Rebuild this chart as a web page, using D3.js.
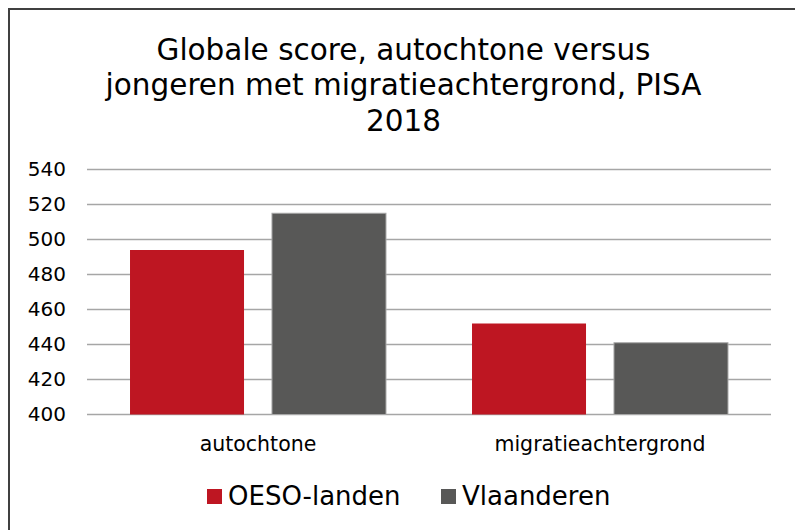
<!DOCTYPE html>
<html>
<head>
<meta charset="utf-8">
<script src="https://cdn.jsdelivr.net/npm/d3@7"></script>
<style>
  body { margin: 0; background: #fff; }
  svg { display: block; font-family: "DejaVu Sans", Verdana, sans-serif; }
</style>
</head>
<body>
<div id="chart"></div>
<script>
// données
var categories = ["autochtone", "migratieachtergrond"];
var series = ["OESO-landen", "Vlaanderen"];
var oesoWaarden = [494, 452];
var vlaanderenWaarden = [515, 441];
var yTicks = [400, 420, 440, 460, 480, 500, 520, 540];
var titelRegels = ["Globale score, autochtone versus", "jongeren met migratieachtergrond, PISA", "2018"];

var kleuren = { "OESO-landen": "#BE1622", "Vlaanderen": "#585857" };

const width = 795, height = 530;
const plot = { left: 87, right: 771, top: 169.5, bottom: 414.5 };

const svg = d3.select("#chart").append("svg")
    .attr("width", width)
    .attr("height", height);

// cadre (bords droit et bas hors de l'image)
svg.append("rect")
    .attr("x", 9).attr("y", 9)
    .attr("width", 800).attr("height", 540)
    .attr("fill", "#fff")
    .attr("stroke", "#404040")
    .attr("stroke-width", 2);

// titre
svg.append("text")
    .attr("text-anchor", "middle")
    .style("font-size", "29.5px")
    .attr("fill", "#000")
    .selectAll("tspan")
    .data(titelRegels)
    .enter().append("tspan")
    .attr("x", 403.5)
    .attr("y", (d, i) => 59.5 + i * 35.5)
    .text(d => d);

const y = d3.scaleLinear().domain([400, 540]).range([plot.bottom, plot.top]);
const x0 = d3.scaleBand().domain(categories).range([plot.left, plot.right]).paddingInner(0).paddingOuter(0);
const x1 = d3.scaleBand().domain(series).range([0, x0.bandwidth()]).paddingInner(0.197).paddingOuter(0.303);

// lignes de grille
svg.append("g")
    .selectAll("line")
    .data(yTicks)
    .enter().append("line")
    .attr("x1", plot.left).attr("x2", plot.right)
    .attr("y1", d => y(d)).attr("y2", d => y(d))
    .attr("stroke", "#a6a6a6")
    .attr("stroke-width", 1.5);

// axe Y
const yAxis = svg.append("g")
    .attr("transform", `translate(${plot.left},0)`)
    .call(d3.axisLeft(y).tickValues(yTicks).tickSize(0).tickPadding(21));
yAxis.select(".domain").remove();
yAxis.selectAll("text")
    .style("font-size", "20px")
    .style("font-family", "'DejaVu Sans', Verdana, sans-serif")
    .attr("fill", "#000");

// barres
const rows = categories.map((c, i) => ({
    categorie: c,
    waarden: [
        { serie: "OESO-landen", waarde: oesoWaarden[i] },
        { serie: "Vlaanderen", waarde: vlaanderenWaarden[i] }
    ]
}));

svg.append("g")
    .selectAll("g")
    .data(rows)
    .enter().append("g")
    .attr("transform", d => `translate(${x0(d.categorie)},0)`)
    .selectAll("rect")
    .data(d => d.waarden)
    .enter().append("rect")
    .attr("x", d => x1(d.serie))
    .attr("y", d => y(d.waarde))
    .attr("width", x1.bandwidth())
    .attr("height", d => y(400) - y(d.waarde))
    .attr("fill", d => kleuren[d.serie])
    .attr("stroke", d => d.serie === "Vlaanderen" ? "#a6a6a6" : "none")
    .attr("stroke-width", 1);

// axe X
const xAxis = svg.append("g")
    .attr("transform", `translate(0,${plot.bottom})`)
    .call(d3.axisBottom(x0).tickSize(0).tickPadding(22));
xAxis.select(".domain").remove();
xAxis.selectAll("text")
    .style("font-size", "20.5px")
    .style("font-family", "'DejaVu Sans', Verdana, sans-serif")
    .attr("fill", "#000");

// légende
const legende = svg.append("g")
    .selectAll("g")
    .data(series)
    .enter().append("g")
    .attr("transform", (d, i) => `translate(${[207, 441][i]},0)`);

legende.append("rect")
    .attr("x", 0).attr("y", 489)
    .attr("width", 15).attr("height", 15)
    .attr("fill", d => kleuren[d]);

legende.append("text")
    .attr("x", 21).attr("y", 505)
    .style("font-size", "26px")
    .attr("fill", "#000")
    .text(d => d);
</script>
</body>
</html>
